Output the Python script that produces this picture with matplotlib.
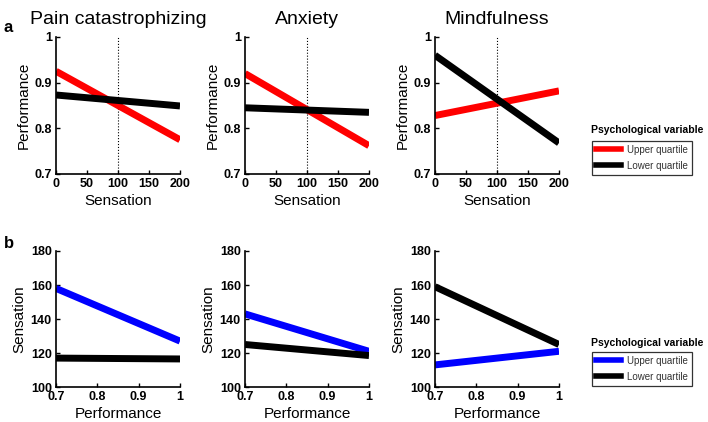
import matplotlib
matplotlib.use("Agg")
import matplotlib.pyplot as plt
from matplotlib.lines import Line2D

plt.rcParams['font.family'] = ['Liberation Sans', 'DejaVu Sans']

titles = ["Pain catastrophizing", "Anxiety", "Mindfulness"]

# Row a: Performance vs Sensation
sens_x = [0, 200]
a_upper = [[0.925, 0.775], [0.920, 0.762], [0.828, 0.882]]
a_lower = [[0.873, 0.849], [0.845, 0.835], [0.960, 0.768]]

# Row b: Sensation vs Performance
perf_x = [0.7, 1.0]
b_upper = [[158, 127], [143, 121], [113, 121]]
b_lower = [[117, 116.5], [125, 118.5], [159, 125]]

a_xticks = [0, 50, 100, 150, 200]
a_yticks = [0.7, 0.8, 0.9, 1.0]
a_yticklabels = ["0.7", "0.8", "0.9", "1"]
b_xticks = [0.7, 0.8, 0.9, 1.0]
b_xticklabels = ["0.7", "0.8", "0.9", "1"]
b_yticks = [100, 120, 140, 160, 180]

legend_title = "Psychological variable"
legend_labels = ["Upper quartile", "Lower quartile"]

W, H = 708, 422
fig = plt.figure(figsize=(W / 100, H / 100), dpi=100)

lefts = [56, 245, 435]
width = 124
top_a, bot_a = 37, 174
top_b, bot_b = 251, 387

LW = 5

def style(ax):
    for s in ['top', 'right']:
        ax.spines[s].set_visible(False)
    for s in ['left', 'bottom']:
        ax.spines[s].set_linewidth(1.2)
    ax.tick_params(direction='in', length=3, width=1, labelsize=9, pad=3)
    for lab in ax.get_xticklabels() + ax.get_yticklabels():
        lab.set_fontweight('bold')

for i in range(3):
    l = lefts[i]
    ax = fig.add_axes([l / W, 1 - bot_a / H, width / W, (bot_a - top_a) / H])
    ax.axvline(100, color='black', lw=0.8, ls=':')
    ax.plot(sens_x, a_upper[i], color='#ff0000', lw=LW, solid_capstyle='butt')
    ax.plot(sens_x, a_lower[i], color='black', lw=LW, solid_capstyle='butt')
    ax.set_xlim(0, 200)
    ax.set_ylim(0.7, 1.0)
    ax.set_xticks(a_xticks)
    ax.set_yticks(a_yticks)
    ax.set_yticklabels(a_yticklabels)
    ax.set_xlabel("Sensation", fontsize=11, labelpad=3)
    ax.set_ylabel("Performance", fontsize=11, labelpad=3)
    ax.set_title(titles[i], fontsize=14, pad=9)
    style(ax)

    ax2 = fig.add_axes([l / W, 1 - bot_b / H, width / W, (bot_b - top_b) / H])
    ax2.plot(perf_x, b_upper[i], color='#0000ff', lw=LW, solid_capstyle='butt')
    ax2.plot(perf_x, b_lower[i], color='black', lw=LW, solid_capstyle='butt')
    ax2.set_xlim(0.7, 1.0)
    ax2.set_ylim(100, 180)
    ax2.set_xticks(b_xticks)
    ax2.set_xticklabels(b_xticklabels)
    ax2.set_yticks(b_yticks)
    ax2.set_xlabel("Performance", fontsize=11, labelpad=3)
    ax2.set_ylabel("Sensation", fontsize=11, labelpad=3)
    style(ax2)

fig.text(4 / W, 1 - 28 / H, "a", fontsize=12, fontweight='bold', va='center')
fig.text(4 / W, 1 - 243 / H, "b", fontsize=12, fontweight='bold', va='center')

def add_legend(color, y_title, y_box):
    fig.text(591 / W, 1 - y_title / H, legend_title, fontsize=7.5, fontweight='bold', va='center')
    handles = [Line2D([0], [0], color=color, lw=4), Line2D([0], [0], color='black', lw=4)]
    leg = fig.legend(handles, legend_labels, loc='upper left',
                     bbox_to_anchor=(592 / W, 1 - y_box / H), fontsize=7,
                     frameon=True, fancybox=False, edgecolor='black',
                     handlelength=2.6, handletextpad=0.6, borderpad=0.4,
                     labelspacing=0.6, borderaxespad=0)
    leg.get_frame().set_linewidth(0.9)
    for t in leg.get_texts():
        t.set_color('#333333')

add_legend('#ff0000', 130, 141)
add_legend('#0000ff', 343, 352)

fig.savefig("out.png", dpi=100)
